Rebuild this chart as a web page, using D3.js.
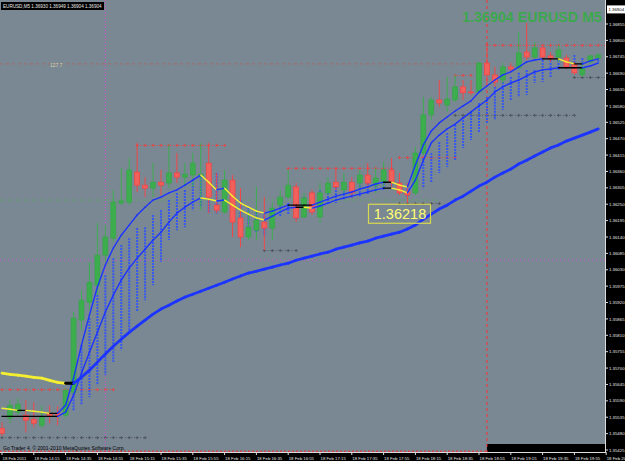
<!DOCTYPE html>
<html><head><meta charset="utf-8">
<script src="https://cdn.jsdelivr.net/npm/d3@7"></script>
<style>body{margin:0;background:#000;overflow:hidden}svg{display:block}</style>
</head><body>
<svg id="c" width="625" height="461"></svg>
<script>
// ---------- DATA ----------
const openP = [1.35498,1.35532,1.35552,1.35542,1.35528,1.35508,1.35548,1.35548,1.35542,1.35619,1.35861,1.35921,1.35978,1.36079,1.36136,1.36254,1.36257,1.36358,1.36314,1.36304,1.36324,1.36321,1.36355,1.36341,1.36348,1.36345,1.36388,1.36247,1.36224,1.36331,1.36204,1.36140,1.36163,1.36190,1.36170,1.36247,1.36274,1.36308,1.36207,1.36288,1.36207,1.36288,1.36324,1.36298,1.36324,1.36321,1.36348,1.36314,1.36324,1.36365,1.36321,1.36291,1.36288,1.36422,1.36550,1.36600,1.36583,1.36600,1.36644,1.36627,1.36627,1.36724,1.36684,1.36667,1.36711,1.36708,1.36761,1.36744,1.36775,1.36748,1.36744,1.36741,1.36718,1.36684,1.36728,1.36741];
const highP = [1.35518,1.35592,1.35599,1.35592,1.35585,1.35575,1.35575,1.35572,1.35632,1.35888,1.35962,1.36056,1.36187,1.36180,1.36298,1.36372,1.36405,1.36456,1.36341,1.36388,1.36365,1.36449,1.36422,1.36388,1.36422,1.36456,1.36456,1.36355,1.36365,1.36348,1.36304,1.36230,1.36308,1.36274,1.36257,1.36298,1.36365,1.36321,1.36288,1.36298,1.36321,1.36341,1.36372,1.36355,1.36341,1.36365,1.36388,1.36372,1.36392,1.36405,1.36355,1.36321,1.36442,1.36610,1.36610,1.36667,1.36677,1.36684,1.36667,1.36667,1.36728,1.36778,1.36711,1.36724,1.36724,1.36828,1.36859,1.36795,1.36785,1.36761,1.36785,1.36751,1.36728,1.36728,1.36751,1.36758];
const lowP = [1.35471,1.35515,1.35542,1.35484,1.35501,1.35498,1.35515,1.35508,1.35532,1.35609,1.35827,1.35894,1.35945,1.36056,1.36123,1.36247,1.36247,1.36291,1.36274,1.36274,1.36281,1.36304,1.36321,1.36308,1.36308,1.36230,1.36220,1.36220,1.36217,1.36140,1.36106,1.36130,1.36130,1.36096,1.36130,1.36220,1.36271,1.36190,1.36204,1.36214,1.36187,1.36281,1.36298,1.36281,1.36274,1.36298,1.36304,1.36288,1.36308,1.36308,1.36281,1.36254,1.36281,1.36415,1.36533,1.36576,1.36560,1.36593,1.36600,1.36617,1.36620,1.36644,1.36644,1.36657,1.36691,1.36701,1.36734,1.36734,1.36734,1.36728,1.36728,1.36704,1.36684,1.36677,1.36721,1.36734];
const closeP = [1.35481,1.35575,1.35579,1.35525,1.35515,1.35535,1.35538,1.35542,1.35626,1.35868,1.35928,1.35988,1.36079,1.36140,1.36257,1.36261,1.36365,1.36314,1.36304,1.36324,1.36314,1.36355,1.36341,1.36351,1.36388,1.36351,1.36274,1.36230,1.36331,1.36190,1.36140,1.36173,1.36197,1.36170,1.36237,1.36274,1.36314,1.36204,1.36271,1.36224,1.36288,1.36321,1.36308,1.36324,1.36288,1.36348,1.36321,1.36338,1.36365,1.36324,1.36288,1.36281,1.36422,1.36550,1.36600,1.36590,1.36603,1.36644,1.36624,1.36624,1.36724,1.36684,1.36660,1.36711,1.36704,1.36758,1.36744,1.36775,1.36744,1.36738,1.36768,1.36711,1.36691,1.36708,1.36748,1.36751];

const fastUpper = [1.35565,1.35562,1.35558,1.35558,1.35555,1.35552,1.35548,1.35548,1.35575,1.35666,1.35777,1.35878,1.35972,1.36046,1.36103,1.36146,1.36180,1.36214,1.36240,1.36264,1.36274,1.36288,1.36298,1.36314,1.36331,1.36348,1.36324,1.36298,1.36304,1.36277,1.36254,1.36240,1.36227,1.36220,1.36227,1.36237,1.36247,1.36247,1.36247,1.36247,1.36257,1.36267,1.36277,1.36284,1.36291,1.36301,1.36308,1.36318,1.36324,1.36324,1.36314,1.36308,1.36382,1.36449,1.36496,1.36523,1.36543,1.36563,1.36580,1.36597,1.36627,1.36647,1.36667,1.36684,1.36694,1.36711,1.36728,1.36734,1.36738,1.36738,1.36738,1.36728,1.36721,1.36721,1.36731,1.36738];
const fastLower = [1.35538,1.35538,1.35538,1.35538,1.35538,1.35538,1.35538,1.35538,1.35552,1.35609,1.35683,1.35753,1.35820,1.35888,1.35945,1.35995,1.36036,1.36069,1.36099,1.36130,1.36156,1.36190,1.36220,1.36240,1.36257,1.36271,1.36267,1.36261,1.36264,1.36247,1.36230,1.36217,1.36204,1.36197,1.36210,1.36224,1.36237,1.36240,1.36240,1.36237,1.36244,1.36254,1.36264,1.36271,1.36277,1.36284,1.36291,1.36298,1.36304,1.36304,1.36298,1.36288,1.36331,1.36398,1.36456,1.36482,1.36503,1.36519,1.36540,1.36560,1.36580,1.36600,1.36627,1.36644,1.36657,1.36667,1.36681,1.36694,1.36701,1.36704,1.36708,1.36708,1.36708,1.36708,1.36714,1.36724];
const slowMA = [1.35683,1.35679,1.35676,1.35673,1.35669,1.35666,1.35659,1.35652,1.35649,1.35649,1.35669,1.35693,1.35720,1.35747,1.35773,1.35797,1.35820,1.35841,1.35861,1.35881,1.35898,1.35911,1.35925,1.35938,1.35948,1.35958,1.35968,1.35978,1.35988,1.35999,1.36009,1.36019,1.36025,1.36032,1.36039,1.36046,1.36052,1.36062,1.36069,1.36076,1.36083,1.36089,1.36099,1.36106,1.36113,1.36120,1.36126,1.36136,1.36143,1.36150,1.36156,1.36167,1.36180,1.36200,1.36217,1.36234,1.36247,1.36264,1.36277,1.36294,1.36311,1.36324,1.36341,1.36355,1.36368,1.36385,1.36398,1.36412,1.36425,1.36439,1.36449,1.36462,1.36472,1.36482,1.36492,1.36503];

// dotted blue bars (first bar at index 9)
const barStart = 9;
const barTop = [1.35686,1.35777,1.35868,1.35945,1.36012,1.36069,1.36113,1.36136,1.36170,1.36173,1.36214,1.36230,1.36264,1.36288,1.36298,1.36331,1.36341,1.36331,1.36355,1.36314,1.36281,1.36264,1.36240,1.36224,1.36220,1.36224,1.36247,1.36254,1.36247,1.36274,1.36264,1.36298,1.36298,1.36308,1.36314,1.36314,1.36324,1.36331,1.36331,1.36341,1.36338,1.36324,1.36314,1.36348,1.36405,1.36422,1.36459,1.36489,1.36516,1.36543,1.36560,1.36590,1.36610,1.36644,1.36660,1.36677,1.36691,1.36701,1.36701,1.36734,1.36744,1.36734,1.36734,1.36751,1.36741,1.36744,1.36744];
const barBottom = [1.35558,1.35575,1.35602,1.35642,1.35676,1.35720,1.35760,1.35827,1.35888,1.35928,1.35978,1.36056,1.36130,1.36163,1.36173,1.36230,1.36240,1.36224,1.36220,1.36230,1.36204,1.36180,1.36163,1.36156,1.36146,1.36170,1.36207,1.36214,1.36197,1.36240,1.36224,1.36230,1.36247,1.36254,1.36264,1.36271,1.36277,1.36281,1.36291,1.36298,1.36298,1.36288,1.36274,1.36288,1.36304,1.36321,1.36355,1.36375,1.36398,1.36439,1.36466,1.36489,1.36523,1.36533,1.36566,1.36600,1.36610,1.36617,1.36657,1.36660,1.36674,1.36701,1.36711,1.36711,1.36718,1.36724,1.36728];

// level objects: [price, fromBar, toBar]
const redLevels = [[1.36449,17,28],[1.36372,36,49],[1.36408,50,57],[1.36684,57,59],[1.36785,61,76],[1.35629,0,14]];
const grayLevels = [[1.35468,0,18],[1.36096,33,37],[1.36550,57,72],[1.36677,72,76],[1.36254,50,55]];
const dashLevel = 1.36721, dashLevelTo = 61, dashLevelText = "127.7";
const greenLevel = 1.36264, greenLevelTo = 55;
const magentaLevel = 1.36062;
const bottomLevel = 1.35421;
const magentaVLine = 13, redVLine = 61;

const priceTicks = [1.35425,1.35480,1.35535,1.35590,1.35645,1.35700,1.35755,1.35810,1.35865,1.35920,1.35975,1.36030,1.36085,1.36140,1.36195,1.36250,1.36305,1.36360,1.36415,1.36470,1.36525,1.36580,1.36635,1.36690,1.36745,1.36800,1.36855];
const timeTickIdx = [0,4,8,12,16,20,24,28,32,36,40,44,48,52,56,60,64,68,72,76];
const timeTickLabels = ["18 Feb 2011","18 Feb 14:15","18 Feb 14:35","18 Feb 14:55","18 Feb 15:15","18 Feb 15:35","18 Feb 15:55","18 Feb 16:15","18 Feb 16:35","18 Feb 16:55","18 Feb 17:15","18 Feb 17:35","18 Feb 17:55","18 Feb 18:15","18 Feb 18:35","18 Feb 18:55","18 Feb 19:15","18 Feb 19:35","18 Feb 19:55","18 Feb 20"];
const bidPrice = 1.36904;
const markedPrice = 1.36218, markedBar = 50;
const headerText = "EURUSD,M5  1.36930 1.36949 1.36904 1.36904";
const bigText = "1.36904 EURUSD M5";
const copyText = "Go Trader 4, \u00a9 2001-2010 MetaQuotes Software Corp.";

// ---------- DRAW ----------
const PW = 605, PH = 452;
const svg = d3.select("#c");
const x = d3.scaleLinear().domain([0, 76]).range([2, 606.2]);
const y = d3.scaleLinear().domain([1.35425, 1.36855]).range([450, 24]);
const FONT = "Liberation Sans, Arial, sans-serif";

svg.append("rect").attr("width", 625).attr("height", 461).attr("fill", "#000");
svg.append("defs").append("clipPath").attr("id", "pc")
  .append("rect").attr("width", PW).attr("height", PH);
svg.append("rect").attr("width", PW).attr("height", PH).attr("fill", "#7a8894");

const g = svg.append("g").attr("clip-path", "url(#pc)");

// long horizontal lines
g.append("line").attr("x1", 0).attr("x2", x(dashLevelTo)).attr("y1", y(dashLevel)).attr("y2", y(dashLevel))
  .attr("stroke", "#a86a6a").attr("stroke-dasharray", "3,3");
g.append("text").attr("x", 50).attr("y", y(dashLevel) + 3).attr("font-size", 5).attr("font-family", FONT)
  .attr("fill", "#d6d6a8").text(dashLevelText);
g.append("line").attr("x1", 0).attr("x2", x(greenLevelTo)).attr("y1", y(greenLevel)).attr("y2", y(greenLevel))
  .attr("stroke", "#48c048").attr("stroke-dasharray", "1,3");
g.append("line").attr("x1", 0).attr("x2", PW).attr("y1", y(magentaLevel)).attr("y2", y(magentaLevel))
  .attr("stroke", "#d848d8").attr("stroke-dasharray", "1,3");
g.append("line").attr("x1", 0).attr("x2", x(redVLine)).attr("y1", y(bottomLevel)).attr("y2", y(bottomLevel))
  .attr("stroke", "#ff2020").attr("stroke-dasharray", "2,2");
g.append("rect").attr("x", x(redVLine)).attr("y", 444).attr("width", PW - x(redVLine)).attr("height", 8).attr("fill", "#000");

function levels(arr, color) {
  arr.forEach(([p, a, b]) => {
    g.append("line").attr("x1", x(a)).attr("x2", x(b)).attr("y1", y(p) + 0.5).attr("y2", y(p) + 0.5)
      .attr("stroke", color).attr("stroke-dasharray", "1,2");
    for (let i = a; i <= b; i++) {
      g.append("path").attr("d", `M${x(i) - 1.5},${y(p) + 0.5}h3M${x(i)},${y(p) - 1}v3`)
        .attr("stroke", color).attr("stroke-width", 1);
    }
  });
}
levels(redLevels, "#e04848");
levels(grayLevels, "#4f565e");

// vertical lines
g.append("line").attr("x1", x(magentaVLine)).attr("x2", x(magentaVLine)).attr("y1", 0).attr("y2", PH)
  .attr("stroke", "#d848d8").attr("stroke-dasharray", "1,2");
g.append("line").attr("x1", x(redVLine)).attr("x2", x(redVLine)).attr("y1", 0).attr("y2", PH)
  .attr("stroke", "#ff3030").attr("stroke-dasharray", "3,3");

// dotted blue bars
barTop.forEach((t, k) => {
  const i = k + barStart;
  g.append("line").attr("x1", x(i)).attr("x2", x(i)).attr("y1", y(t)).attr("y2", y(barBottom[k]))
    .attr("stroke", "#3458f0").attr("stroke-width", 2).attr("stroke-dasharray", "2,1");
});

// candles
const bw = 5;
openP.forEach((o, i) => {
  const c = closeP[i], bull = c >= o;
  const col = bull ? "#3cae4e" : "#f04848";
  g.append("line").attr("x1", x(i)).attr("x2", x(i)).attr("y1", y(highP[i])).attr("y2", y(lowP[i]))
    .attr("stroke", col).attr("stroke-width", 1);
  const top = y(Math.max(o, c)), h = Math.max(1, Math.abs(y(o) - y(c)));
  g.append("rect").attr("x", x(i) - bw / 2).attr("y", top).attr("width", bw).attr("height", h)
    .attr("fill", bull ? "#3cae4e" : "#f2605c").attr("stroke", bull ? "#36a448" : "#ff3a3a").attr("stroke-width", 0.6);
});

// colour-changing moving averages
function maLine(arr, width, eps) {
  for (let i = 1; i < arr.length; i++) {
    const d = arr[i] - arr[i - 1];
    const col = d > eps ? "#1c34ff" : (d < -eps ? "#f4f030" : "#000000");
    g.append("line").attr("x1", x(i - 1)).attr("x2", x(i)).attr("y1", y(arr[i - 1])).attr("y2", y(arr[i]))
      .attr("stroke", col).attr("stroke-width", width).attr("stroke-linecap", "round");
  }
}
maLine(fastLower, 1.4, 0.00002);
maLine(fastUpper, 1.4, 0.00002);
maLine(slowMA, 2.8, 0.00002);

// marked price box
const mx = x(markedBar), my = y(markedPrice);
g.append("rect").attr("x", mx - 31).attr("y", my - 9.5).attr("width", 62).attr("height", 19)
  .attr("fill", "none").attr("stroke", "#d8d850").attr("stroke-width", 1.2);
g.append("text").attr("x", mx + 0.5).attr("y", my + 5.5).attr("text-anchor", "middle")
  .attr("font-size", 14.5).attr("font-family", FONT).attr("fill", "#ffff70").text(markedPrice.toFixed(5));

// big green label
g.append("text").attr("x", 602).attr("y", 22).attr("text-anchor", "end").attr("font-size", 14.3)
  .attr("font-weight", "bold").attr("font-family", FONT).attr("fill", "#3ca84e").text(bigText);

// header
g.append("rect").attr("x", 1).attr("y", 2).attr("width", 103).attr("height", 8).attr("fill", "#000");
g.append("text").attr("x", 3).attr("y", 8).attr("font-size", 4.6).attr("font-family", FONT)
  .attr("fill", "#e8e8e8").text(headerText);

// copyright
g.append("text").attr("x", 3).attr("y", 449.5).attr("font-size", 5).attr("font-family", FONT)
  .attr("fill", "#000").text(copyText);

// ---------- AXES ----------
const ra = svg.append("g");
ra.append("line").attr("x1", 605.5).attr("x2", 605.5).attr("y1", 0).attr("y2", 453).attr("stroke", "#ddd");
priceTicks.forEach(p => {
  ra.append("line").attr("x1", 605).attr("x2", 608).attr("y1", y(p)).attr("y2", y(p)).attr("stroke", "#ddd");
  ra.append("text").attr("x", 609).attr("y", y(p) + 1.6).attr("font-size", 4.3).attr("font-family", FONT)
    .attr("fill", "#e6e6e6").text(p.toFixed(5));
});
ra.append("rect").attr("x", 607).attr("y", y(bidPrice) - 4).attr("width", 18).attr("height", 8).attr("fill", "#fff");
ra.append("text").attr("x", 608.5).attr("y", y(bidPrice) + 1.6).attr("font-size", 4.3).attr("font-family", FONT)
  .attr("fill", "#000").text(bidPrice.toFixed(5));

const ba = svg.append("g");
ba.append("line").attr("x1", 0).attr("x2", 606).attr("y1", 452.5).attr("y2", 452.5).attr("stroke", "#ddd");
timeTickIdx.forEach((t, k) => {
  ba.append("line").attr("x1", x(t)).attr("x2", x(t)).attr("y1", 452).attr("y2", 455).attr("stroke", "#ddd");
  ba.append("text").attr("x", x(t) + 0.5).attr("y", 459.5).attr("font-size", 4.3).attr("font-family", FONT)
    .attr("fill", "#e6e6e6").text(timeTickLabels[k]);
});
</script>
</body></html>
